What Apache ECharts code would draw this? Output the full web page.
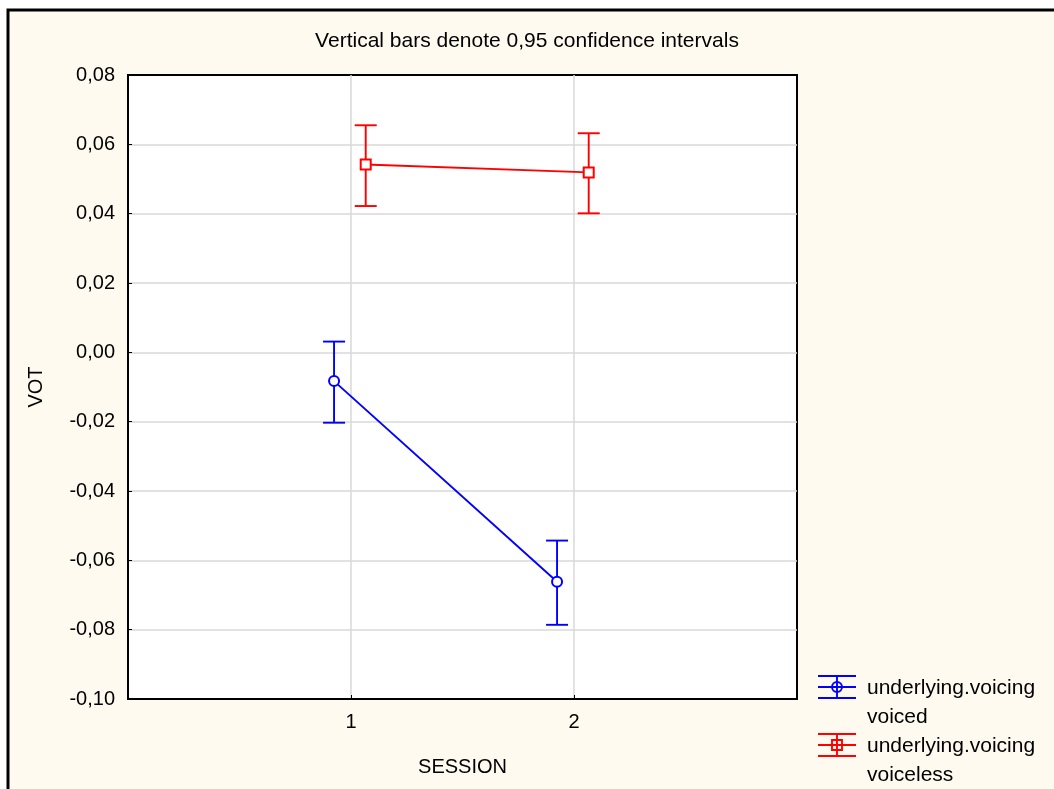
<!DOCTYPE html>
<html>
<head>
<meta charset="utf-8">
<script src="https://cdn.jsdelivr.net/npm/echarts@6/dist/echarts.min.js"></script>
<style>
  html, body { margin: 0; padding: 0; background: #ffffff; }
  #chart { width: 1054px; height: 789px; }
</style>
</head>
<body>
<div id="chart"></div>
<script>
// Session means of VOT with 0,95 confidence limits
const sessions = [1, 2];
const voicedMean = [-0.0083, -0.0662];
const voicedLow = [-0.0203, -0.0786];
const voicedHigh = [0.0031, -0.0543];
const voicelessMean = [0.0542, 0.0519];
const voicelessLow = [0.0422, 0.0401];
const voicelessHigh = [0.0655, 0.0632];
const yTicks = [-0.10, -0.08, -0.06, -0.04, -0.02, 0.00, 0.02, 0.04, 0.06, 0.08];
const xTickLabels = ['1', '2'];
const seriesNames = ['underlying.voicing\nvoiced', 'underlying.voicing\nvoiceless'];

// groups are nudged sideways so the intervals do not overlap
const DODGE_VOICED = -0.076;
const DODGE_VOICELESS = 0.066;

const BLUE = '#0000ff';
const RED = '#ff0000';
const FONT = '"Liberation Sans", Arial, sans-serif';
const CREAM = '#fffaef';
const LW = 1.9;

function pts(means, dodge) {
  return sessions.map((s, i) => [s + dodge, means[i]]);
}
function bars(lows, highs, dodge) {
  return sessions.map((s, i) => [s + dodge, lows[i], highs[i]]);
}

function errorBarItem(color) {
  return function (params, api) {
    const x = api.value(0);
    const lo = api.coord([x, api.value(1)]);
    const hi = api.coord([x, api.value(2)]);
    const half = 11;
    const style = { stroke: color, lineWidth: LW };
    return {
      type: 'group',
      children: [
        { type: 'line', shape: { x1: lo[0], y1: lo[1], x2: hi[0], y2: hi[1] }, style },
        { type: 'line', shape: { x1: hi[0] - half, y1: hi[1], x2: hi[0] + half, y2: hi[1] }, style },
        { type: 'line', shape: { x1: lo[0] - half, y1: lo[1], x2: lo[0] + half, y2: lo[1] }, style }
      ]
    };
  };
}

function fmtY(v) {
  const r = Math.round(v * 100) / 100;
  if (Math.abs(r) < 1e-9) return '0,00';
  return r.toFixed(2).replace('.', ',');
}

// legend swatch: capped bar with the series marker in the middle
function legendEntry(y, color, marker, label) {
  const x0 = 818, x1 = 856, xc = 837;
  const st = { stroke: color, lineWidth: LW };
  const markerEl = marker === 'circle'
    ? { type: 'circle', shape: { cx: xc, cy: y, r: 5 }, style: { stroke: color, fill: 'none', lineWidth: LW } }
    : { type: 'rect', shape: { x: xc - 5, y: y - 5, width: 10, height: 10 }, style: { stroke: color, fill: 'none', lineWidth: LW } };
  return [
    { type: 'line', shape: { x1: x0, y1: y - 11, x2: x1, y2: y - 11 }, style: st },
    { type: 'line', shape: { x1: x0, y1: y, x2: x1, y2: y }, style: st },
    { type: 'line', shape: { x1: x0, y1: y + 11, x2: x1, y2: y + 11 }, style: st },
    { type: 'line', shape: { x1: xc, y1: y - 11, x2: xc, y2: y + 11 }, style: st },
    markerEl,
    {
      type: 'text', x: 867, y: y - 13,
      style: { text: label, fill: '#000', font: '21px ' + FONT, lineHeight: 29, verticalAlign: 'top' }
    }
  ];
}

const chart = echarts.init(document.getElementById('chart'), null, { renderer: 'canvas' });

chart.setOption({
  backgroundColor: '#ffffff',
  animation: false,
  title: {
    text: 'Vertical bars denote 0,95 confidence intervals',
    left: 'center',
    top: 26,
    textStyle: { fontFamily: FONT, fontSize: 21, fontWeight: 'normal', color: '#000' }
  },
  graphic: [
    {
      type: 'rect', z: -100, silent: true,
      shape: { x: 8, y: 10, width: 1200, height: 900 },
      style: { fill: CREAM, stroke: '#000', lineWidth: 3 }
    },
    ...legendEntry(687, BLUE, 'circle', seriesNames[0]),
    ...legendEntry(745, RED, 'rect', seriesNames[1])
  ],
  grid: {
    left: 128, top: 75, right: 257, bottom: 90,
    show: true, backgroundColor: '#ffffff', borderColor: '#000', borderWidth: 2
  },
  xAxis: {
    type: 'value', min: 0, max: 3, interval: 1,
    name: 'SESSION', nameLocation: 'middle', nameGap: 58,
    nameTextStyle: { fontFamily: FONT, fontSize: 20, color: '#000' },
    axisLine: { onZero: false, lineStyle: { color: '#000', width: 2 } },
    axisTick: { inside: true, length: 4, lineStyle: { color: '#000' } },
    axisLabel: {
      margin: 13, fontFamily: FONT, fontSize: 20, color: '#000',
      formatter: v => xTickLabels[sessions.indexOf(v)] || ''
    },
    splitLine: { show: true, showMinLine: false, showMaxLine: false, lineStyle: { color: '#d9d9d9', width: 1.5 } }
  },
  yAxis: {
    type: 'value', min: yTicks[0], max: yTicks[yTicks.length - 1], interval: 0.02,
    name: 'VOT', nameLocation: 'middle', nameGap: 82, nameRotate: 90,
    nameTextStyle: { fontFamily: FONT, fontSize: 20, color: '#000' },
    axisLine: { onZero: false, lineStyle: { color: '#000', width: 2 } },
    axisTick: { inside: true, length: 4, lineStyle: { color: '#000' } },
    axisLabel: { margin: 13, fontFamily: FONT, fontSize: 20, color: '#000', formatter: fmtY },
    splitLine: { show: true, showMinLine: false, showMaxLine: false, lineStyle: { color: '#d9d9d9', width: 1.5 } }
  },
  series: [
    {
      name: 'voiced', type: 'line', data: pts(voicedMean, DODGE_VOICED),
      symbol: 'emptyCircle', symbolSize: 10, z: 5,
      lineStyle: { color: BLUE, width: LW },
      itemStyle: { color: BLUE, borderColor: BLUE, borderWidth: LW }
    },
    {
      name: 'voiced CI', type: 'custom', data: bars(voicedLow, voicedHigh, DODGE_VOICED),
      renderItem: errorBarItem(BLUE), encode: { x: 0, y: [1, 2] }, z: 4
    },
    {
      name: 'voiceless', type: 'line', data: pts(voicelessMean, DODGE_VOICELESS),
      symbol: 'emptyRect', symbolSize: 10, z: 5,
      lineStyle: { color: RED, width: LW },
      itemStyle: { color: RED, borderColor: RED, borderWidth: LW }
    },
    {
      name: 'voiceless CI', type: 'custom', data: bars(voicelessLow, voicelessHigh, DODGE_VOICELESS),
      renderItem: errorBarItem(RED), encode: { x: 0, y: [1, 2] }, z: 4
    }
  ]
});
</script>
</body>
</html>
